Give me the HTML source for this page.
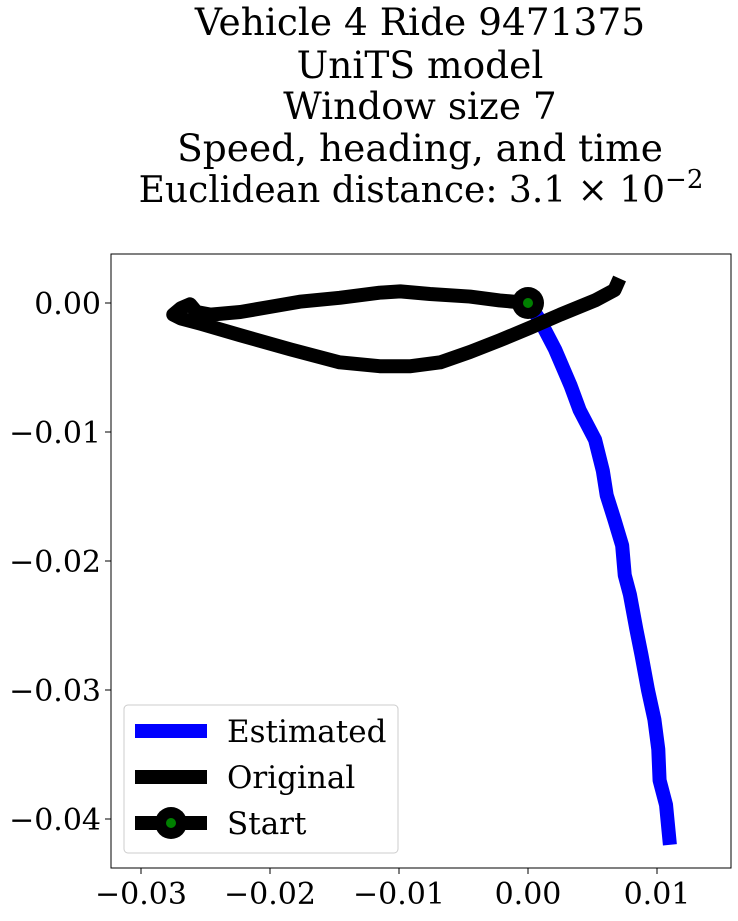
<!DOCTYPE html>
<html><head><meta charset="utf-8"><style>
body{margin:0;background:#fff}
svg text{font-family:"DejaVu Serif","Liberation Serif",serif}
</style></head><body>
<svg id="c" width="738" height="916" viewBox="0 0 738 916" xmlns="http://www.w3.org/2000/svg">
<g font-size="37.5" text-anchor="middle" fill="#000">
<text x="420" y="35">Vehicle 4 Ride 9471375</text>
<text x="420" y="78">UniTS model</text>
<text x="420" y="119">Window size 7</text>
<text x="420" y="161">Speed, heading, and time</text>
<text x="421" y="202" font-size="36">Euclidean distance: 3.1 × 10<tspan dy="-14" font-size="26">−2</tspan></text>
</g>
<g id="plot"></g>
</svg>
<script>
const xTicks=[-0.03,-0.02,-0.01,0.00,0.01];
const yTicks=[0.00,-0.01,-0.02,-0.03,-0.04];
const estX=[0,0.0009,0.0021,0.0033,0.0040,0.0052,0.0058,0.0061,0.0067,0.0073,0.0075,0.0079,0.0084,0.0088,0.0093,0.0098,0.0101,0.0102,0.0107,0.0110];
const estY=[0,-0.0013,-0.0036,-0.0064,-0.0083,-0.0106,-0.0130,-0.0149,-0.0168,-0.0188,-0.0211,-0.0226,-0.0253,-0.0273,-0.0300,-0.0323,-0.0346,-0.0370,-0.0389,-0.0420];
const origX=[0,-0.0022,-0.0045,-0.0076,-0.0099,-0.0115,-0.0146,-0.0177,-0.0200,-0.0223,-0.0246,-0.0257,-0.0262,-0.0269,-0.0275,-0.0269,-0.0254,-0.0223,-0.0184,-0.0146,-0.0115,-0.0091,-0.0068,-0.0045,-0.0022,0.0002,0.0025,0.0052,0.0067,0.0071];
const origY=[0,0.0002,0.0005,0.0007,0.0009,0.0008,0.0004,0.0001,-0.0003,-0.0007,-0.0009,-0.0007,-0.0001,-0.0004,-0.0009,-0.0012,-0.0016,-0.0025,-0.0036,-0.0046,-0.0049,-0.0049,-0.0046,-0.0038,-0.0029,-0.0019,-0.0009,0.0002,0.0010,0.0019];
const L=111,R=731,T=254,B=868;
const sx=v=>528+v*12900, sy=v=>303-v*12900;
const ns="http://www.w3.org/2000/svg", g=document.getElementById('plot');
function mk(t,a){const e=document.createElementNS(ns,t);for(const k in a)e.setAttribute(k,a[k]);g.appendChild(e);return e;}
const frame=mk('rect',{x:L,y:T,width:R-L,height:B-T,fill:'none',stroke:'#000','stroke-width':1});


xTicks.forEach(v=>{const x=sx(v);
 const t=mk('line',{x1:x,x2:x,y1:B,y2:B+6,stroke:'#000'});
 
 
 const l=mk('text',{x:x,y:B+36,'font-size':30,'text-anchor':'middle'});l.textContent=(v<0?'−':'')+Math.abs(v).toFixed(2);
 
 });
yTicks.forEach(v=>{const y=sy(v);
 const t=mk('line',{x1:L-6,x2:L,y1:y,y2:y,stroke:'#000'});
 
 
 const l=mk('text',{x:L-10,y:y+11,'font-size':30,'text-anchor':'end'});l.textContent=(v<0?'−':'')+Math.abs(v).toFixed(2);
 
 });
const pts=(X,Y)=>X.map((v,i)=>sx(v)+','+sy(Y[i])).join(' ');
const est=mk('polyline',{points:pts(estX,estY),fill:'none',stroke:'#0000ff','stroke-width':14,'stroke-linejoin':'round'});


const org=mk('polyline',{points:pts(origX,origY),fill:'none',stroke:'#000','stroke-width':14,'stroke-linejoin':'round'});


const sm=mk('circle',{cx:sx(origX[0]),cy:sy(origY[0]),r:16,fill:'#000'});


const sd=mk('circle',{cx:sx(origX[0]),cy:sy(origY[0]),r:5,fill:'#008000'});


const lg=mk('rect',{x:124,y:705,width:274,height:148,rx:4,fill:'#fff','fill-opacity':0.8,stroke:'#ccc'});


[['Estimated','#0000ff',731],['Original','#000',777],['Start','#000',823]].forEach(([n,c,y],i)=>{
 const ln=mk('line',{x1:135,x2:207,y1:y,y2:y,stroke:c,'stroke-width':14});
 
 
 if(i==2){mk('circle',{cx:171,cy:y,r:16,fill:'#000'});mk('circle',{cx:171,cy:y,r:5,fill:'#008000'});}
 const t=mk('text',{x:227,y:y+11,'font-size':31});t.textContent=n;
 
 
});
</script>
</body></html>
